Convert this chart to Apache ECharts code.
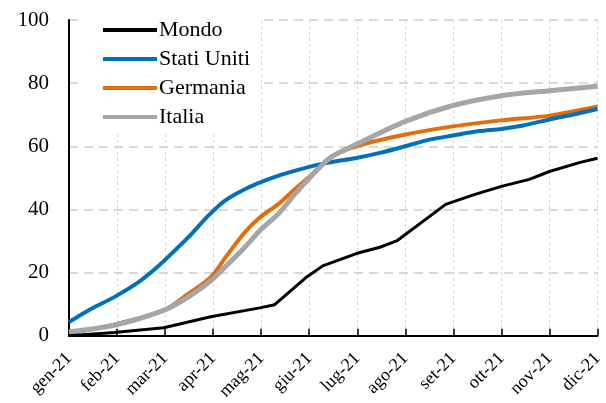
<!DOCTYPE html>
<html>
<head>
<meta charset="utf-8">
<script src="https://cdn.jsdelivr.net/npm/echarts@6/dist/echarts.min.js"></script>
<style>
  html, body { margin: 0; padding: 0; background: #fff; }
  #chart { width: 606px; height: 403px; }
</style>
</head>
<body>
<div id="chart"></div>
<script>
  // mesi sull'asse x
  let mesi = ['gen-21', 'feb-21', 'mar-21', 'apr-21', 'mag-21', 'giu-21', 'lug-21', 'ago-21', 'set-21', 'ott-21', 'nov-21', 'dic-21']
  let yTicks = [0, 20, 40, 60, 80, 100]

  // [posizione in mesi, % popolazione]
  let mondo = [[0, 0], [0.94, 1], [1.97, 2.5], [2.95, 6], [3.97, 8.8], [4.28, 9.8], [4.95, 18.6], [5.28, 22.1],
    [5.98, 26], [6.47, 28], [6.82, 30], [7.84, 41.6], [8.4, 44.5], [9.0, 47.3], [9.58, 49.5], [10.0, 52],
    [10.62, 54.8], [11, 56.2]]
  let statiUniti = [[0, 4.3], [0.4, 8], [0.94, 12.2], [1.44, 16.9], [1.79, 21.1], [2.13, 25.9], [2.48, 31.1],
    [2.9, 38], [3.24, 42.7], [3.66, 46.4], [4.14, 49.5], [4.6, 51.8], [5.29, 54.5], [5.98, 56.3], [6.47, 57.9],
    [7.0, 60], [7.5, 62.1], [7.99, 63.4], [8.54, 64.8], [9.0, 65.5], [9.45, 66.6], [10.0, 68.5], [10.48, 70],
    [11, 71.8]]
  let germania = [[0, 0.8], [0.94, 3.5], [1.97, 8], [2.48, 13.2], [2.95, 18.5], [3.31, 25.9], [3.66, 32.7],
    [3.97, 37.4], [4.35, 41.6], [4.7, 46.4], [4.98, 50], [5.43, 56.3], [5.98, 60], [7.0, 63.7], [7.99, 66.3],
    [9.0, 68.2], [10.0, 69.7], [11, 72.6]]
  let italia = [[0, 1.2], [0.94, 3.3], [1.97, 8], [2.48, 12.2], [2.95, 17.4], [3.31, 22.7], [3.66, 28],
    [3.97, 33.2], [4.37, 38.8], [4.7, 44.8], [4.98, 49.5], [5.43, 56.3], [5.98, 60.6], [7.0, 67.9],
    [7.99, 72.9], [9.0, 76], [10.0, 77.6], [11, 79]]

  let font = 'Liberation Serif'
  let myChart = echarts.init(document.getElementById('chart'))

  let option = {
    animation: false,
    backgroundColor: '#fff',
    textStyle: { fontFamily: font, color: '#000' },
    grid: {
      left: 69,
      right: 8,
      top: 20,
      bottom: 66,
      containLabel: false
    },
    legend: {
      orient: 'vertical',
      left: 83,
      top: 12,
      padding: [7, 11, 6, 20],
      backgroundColor: '#fff',
      icon: 'rect',
      itemWidth: 54,
      itemHeight: 4,
      itemGap: 7,
      textStyle: { fontFamily: font, fontSize: 22, color: '#000', padding: [0, 0, 0, -3] },
      data: ['Mondo', 'Stati Uniti', 'Germania', 'Italia']
    },
    xAxis: {
      type: 'value',
      min: 0,
      max: 11,
      interval: 1,
      axisLine: { show: true, lineStyle: { color: '#000', width: 2 } },
      axisTick: { show: true, inside: true, length: 7, lineStyle: { color: '#000', width: 1.5 } },
      axisLabel: {
        rotate: 45,
        margin: 20,
        fontFamily: font,
        fontSize: 18,
        color: '#000',
        formatter: function (v) {
          return mesi[Math.round(v)] || ''
        }
      },
      splitLine: { show: true, lineStyle: { color: '#d6d6d6', width: 1, type: [3, 3] } }
    },
    yAxis: {
      type: 'value',
      min: yTicks[0],
      max: yTicks[yTicks.length - 1],
      interval: 20,
      axisLine: { show: true, lineStyle: { color: '#000', width: 2 } },
      axisTick: { show: false },
      axisLabel: { fontFamily: font, fontSize: 21, color: '#000', margin: 20 },
      splitLine: { show: true, lineStyle: { color: '#d9d9d9', width: 2, type: [9, 6] } }
    },
    series: [{
      name: 'Mondo',
      type: 'line',
      symbol: 'none',
      data: mondo,
      lineStyle: { color: '#000000', width: 3 },
      itemStyle: { color: '#000000' },
      z: 5
    }, {
      name: 'Stati Uniti',
      type: 'line',
      symbol: 'none',
      smooth: 0.3,
      data: statiUniti,
      lineStyle: { color: '#0070c0', width: 4 },
      itemStyle: { color: '#0070c0' },
      z: 3
    }, {
      name: 'Germania',
      type: 'line',
      symbol: 'none',
      smooth: 0.3,
      data: germania,
      lineStyle: { color: '#e46c0a', width: 4 },
      itemStyle: { color: '#e46c0a' },
      z: 2
    }, {
      name: 'Italia',
      type: 'line',
      symbol: 'none',
      smooth: 0.3,
      data: italia,
      lineStyle: { color: '#a6a6a6', width: 5 },
      itemStyle: { color: '#a6a6a6' },
      z: 4
    }]
  }
  myChart.setOption(option)
</script>
</body>
</html>
